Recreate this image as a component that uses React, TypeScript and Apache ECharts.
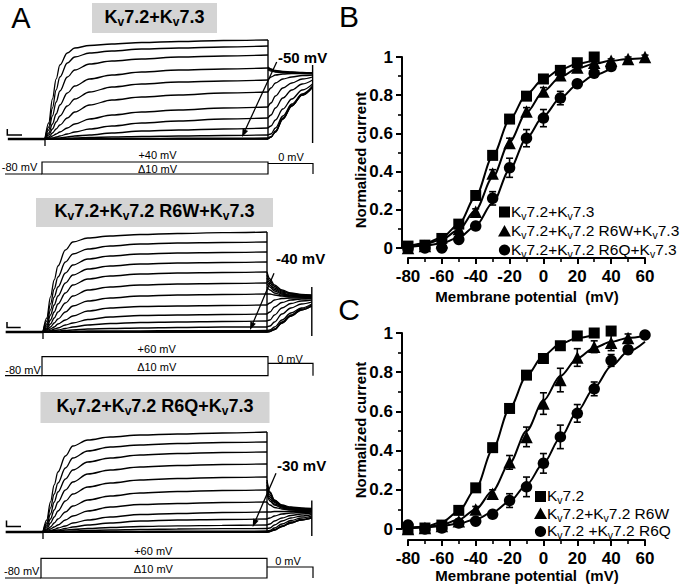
import React, { useEffect, useRef } from 'react';
import * as echarts from 'echarts';

const FONT = '"Liberation Sans", Arial, Helvetica, sans-serif';

// ---------------- Panel A : current traces (arbitrary units, baseline = 0) ----------------
const preTime = -250; // ms, holding at -80 mV before the step
const pulseTimes = [0, 25, 50, 75, 100, 150, 200, 300, 450, 650, 900, 1200, 1500];
const tailTimes = [1500, 1520, 1550, 1600, 1660, 1730, 1800];

const stepsA1 = [40, 30, 20, 10, 0, -10, -20, -30, -40, -50, -60, -70, -80];
const pulseA1 = [
  [0, 16, 40, 60, 74, 86, 91, 93.5, 95, 96.5, 97.5, 98.5, 99],
  [0, 12, 31, 49, 62, 76, 82, 86, 88, 90, 91, 92, 93],
  [0, 9, 23, 37, 48, 62, 69, 75, 78, 80, 82, 83, 84],
  [0, 6, 15, 25, 34, 46, 53, 60, 64, 67, 69, 70, 71],
  [0, 4, 10, 17, 23, 33, 40, 47, 52, 55, 57, 58, 59],
  [0, 2, 6, 10, 14, 21, 27, 34, 39, 42, 44, 46, 47],
  [0, 1, 3, 5, 7, 11, 15, 20, 24, 27, 29, 31, 32],
  [0, 0.5, 1, 2, 3, 5, 7, 10, 13, 16, 18, 20, 21],
  [0, 0, 0.5, 1, 1, 2, 3, 4, 6, 8, 9, 10, 11],
  [0, 0, 0, 0, 0, 0.5, 1, 1.5, 2, 2.5, 3, 3.5, 4],
  [0, 0, 0, 0, 0, 0, 0, 0.2, 0.4, 0.6, 0.8, 0.9, 1],
  [0, 0, 0, 0, 0, 0, 0, 0, 0, 0, 0, 0, 0],
  [0, 0, 0, 0, 0, 0, 0, 0, 0, 0, 0, 0, 0],
];
const tailA1 = [
  [72, 70, 68.5, 67.5, 67, 66.5, 66],
  [71, 69.5, 68, 67, 66.5, 66, 66],
  [70, 69, 67.5, 67, 66.5, 66, 66],
  [69, 68, 67, 66.5, 66, 66, 66],
  [59, 62, 64, 65, 65.5, 65.5, 65.5],
  [47, 51, 56, 60, 62, 63.5, 64],
  [32, 36, 43, 51, 56, 60, 62],
  [21, 24, 31, 41, 49, 55, 59],
  [11, 13, 19, 30, 40, 49, 55],
  [4, 5, 11, 23, 35, 45, 53],
  [1, 2, 8, 21, 34, 44, 52],
  [0, 2, 7, 20, 33, 44, 52],
  [0, 2, 7, 20, 33, 44, 52],
];

const stepsA2 = [60, 50, 40, 30, 20, 10, 0, -10, -20, -30, -40, -50, -60, -70, -80];
const pulseA2 = [
  [0, 14, 35, 52, 66, 82, 90, 94, 96, 97.5, 98.5, 99.3, 100],
  [0, 11, 28, 43, 55, 70, 78, 83, 86, 88, 89, 89.5, 90],
  [0, 8, 22, 35, 45, 59, 67, 73, 76, 78, 79, 79.5, 80],
  [0, 6, 17, 27, 36, 49, 57, 63, 66, 68, 69, 69.5, 70],
  [0, 4, 12, 20, 28, 39, 47, 53, 56, 58, 59, 59.5, 60],
  [0, 3, 8, 14, 20, 29, 36, 42, 45, 47, 48, 48.5, 49],
  [0, 2, 5, 9, 13, 20, 26, 31, 34, 36, 37, 37.5, 38],
  [0, 1, 3, 5, 8, 12, 16, 21, 24, 25.5, 26, 26.5, 27],
  [0, 0.5, 1.5, 3, 4, 7, 9, 12.5, 15, 16.5, 17, 17.5, 18],
  [0, 0, 1, 1.5, 2, 3.5, 5, 7, 8.5, 9.5, 10, 10.5, 11],
  [0, 0, 0, 0.5, 1, 1.5, 2, 3, 3.5, 4, 4.5, 5, 5],
  [0, 0, 0, 0, 0, 0.5, 0.5, 1, 1, 1.2, 1.3, 1.4, 1.5],
  [0, 0, 0, 0, 0, 0, 0, 0.2, 0.3, 0.4, 0.4, 0.5, 0.5],
  [0, 0, 0, 0, 0, 0, 0, 0, 0, 0, 0, 0, 0],
  [0, 0, 0, 0, 0, 0, 0, 0, 0, 0, 0, 0, 0],
];
const tailA2 = [
  [60, 53, 47, 42, 39, 37.5, 37],
  [57, 51, 45.5, 41, 38.5, 37, 36.5],
  [54, 49, 44, 40, 38, 36.5, 36],
  [51, 47, 42.5, 39, 37, 36, 35.5],
  [48, 45, 41, 38, 36.5, 35.5, 35],
  [45, 42, 39, 37, 36, 35, 35],
  [38, 38, 37, 36, 35, 35, 34.5],
  [27, 29, 32, 33.5, 34, 34, 34],
  [18, 20, 25, 29.5, 32, 33, 33.5],
  [11, 12, 17, 24, 28.5, 31, 32],
  [5, 6, 10, 18, 24, 28, 30],
  [1.5, 2, 5, 12, 19, 24, 28],
  [0.5, 1, 3, 10, 17, 23, 27],
  [0, 0.5, 2.5, 9, 16, 22, 26],
  [0, 0.5, 2.5, 9, 16, 22, 26],
];

const stepsA3 = [60, 50, 40, 30, 20, 10, 0, -10, -20, -30, -40, -50, -60, -70, -80];
const pulseA3 = [
  [0, 12, 30, 47, 60, 76, 86, 92, 95, 97, 98, 99, 100],
  [0, 9, 24, 38, 49, 64, 74, 81, 85, 87, 88.5, 89.5, 90],
  [0, 7, 18, 30, 40, 53, 62, 70, 74, 77, 78.5, 79.5, 80],
  [0, 5, 13, 22, 30, 42, 50, 58, 62, 65, 66.5, 67.5, 68],
  [0, 3, 9, 15, 21, 31, 38, 45, 49, 52, 53.5, 54.5, 55],
  [0, 2, 5, 9, 13, 20, 26, 32, 36, 39, 40.5, 41.5, 42],
  [0, 1, 3, 5, 7, 12, 16, 21, 25, 27.5, 28.5, 29.5, 30],
  [0, 0.5, 1.5, 2.5, 4, 6, 9, 12, 15, 17.5, 18.5, 19.5, 20],
  [0, 0, 1, 1.5, 2, 3.5, 5, 7, 9, 11, 12, 12.5, 13],
  [0, 0, 0.5, 1, 1, 2, 2.5, 3.5, 4.5, 5.5, 6.2, 6.7, 7],
  [0, 0, 0, 0, 0.5, 0.5, 1, 1.5, 2, 2.5, 3, 3.3, 3.5],
  [0, 0, 0, 0, 0, 0, 0, 0.3, 0.5, 0.7, 0.8, 0.9, 1],
  [0, 0, 0, 0, 0, 0, 0, 0, 0, 0, 0, 0, 0],
  [0, 0, 0, 0, 0, 0, 0, 0, 0, 0, 0, 0, 0],
  [0, 0, 0, 0, 0, 0, 0, 0, 0, 0, 0, 0, 0],
];
const tailA3 = [
  [52, 40, 32, 27, 25, 24, 23.5],
  [50, 39, 31.5, 26.5, 24.5, 23.5, 23],
  [47, 37, 30.5, 26, 24, 23, 23],
  [44, 35, 29.5, 25.5, 23.5, 23, 22.5],
  [41, 33, 28, 25, 23, 22.5, 22],
  [38, 31, 27, 24, 22.5, 22, 22],
  [30, 27, 24.5, 23, 22, 21.5, 21.5],
  [20, 20, 20.5, 20.5, 20.5, 20.5, 20.5],
  [13, 14, 16, 18, 19, 19.5, 20],
  [7, 8, 11, 14, 16.5, 18, 19],
  [3.5, 4, 7, 11, 14, 16, 17.5],
  [1, 1.5, 4, 8, 11.5, 14, 16],
  [0, 0.5, 2.5, 6, 10, 12.5, 15],
  [0, 0.5, 2, 5.5, 9, 12, 14],
  [0, 0.5, 2, 5.5, 9, 12, 14],
];

const titlesA = ['Kv7.2+Kv7.3', 'Kv7.2+Kv7.2 R6W+Kv7.3', 'Kv7.2+Kv7.2 R6Q+Kv7.3'];
const arrowLabelsA = ['-50 mV', '-40 mV', '-30 mV'];
const stepLabelsA = ['+40 mV', '+60 mV', '+60 mV'];

// ---------------- Panels B, C : normalized G-V ----------------
const voltages = [-80, -70, -60, -50, -40, -30, -20, -10, 0, 10, 20, 30, 40, 50, 60];
const xTicks = [-80, -60, -40, -20, 0, 20, 40, 60];

const legendB = ['Kv7.2+Kv7.3', 'Kv7.2+Kv7.2 R6W+Kv7.3', 'Kv7.2+Kv7.2 R6Q+Kv7.3'];
const bSquare = [0.01, 0.015, 0.05, 0.125, 0.275, 0.485, 0.675, 0.795, 0.885, 0.93, 0.97, 1.0];
const bSquareErr = [0, 0, 0.01, 0.01, 0.015, 0.02, 0.02, 0.015, 0.015, 0.01, 0.01, 0.01];
const bTri = [0.0, 0.01, 0.03, 0.1, 0.19, 0.39, 0.55, 0.715, 0.82, 0.905, 0.945, 0.97, 0.98, 0.99, 1.0];
const bTriErr = [0, 0, 0.01, 0.01, 0.015, 0.02, 0.025, 0.02, 0.02, 0.02, 0.015, 0.01, 0.01, 0.01, 0.01];
const bCirc = [0.0, 0.0, 0.0, 0.045, 0.115, 0.26, 0.42, 0.575, 0.68, 0.785, 0.86, 0.915, 0.95];
const bCircErr = [0, 0, 0.005, 0.01, 0.015, 0.035, 0.05, 0.045, 0.045, 0.035, 0.02, 0.02, 0.01];
const bFitSquare = [0.01, 0.025, 0.055, 0.125, 0.27, 0.48, 0.67, 0.805, 0.885, 0.935, 0.965, 0.985];
const bFitTri = [0.008, 0.02, 0.045, 0.095, 0.2, 0.37, 0.555, 0.71, 0.82, 0.895, 0.94, 0.965, 0.98, 0.99, 0.995];
const bFitCirc = [0.005, 0.012, 0.025, 0.055, 0.115, 0.235, 0.41, 0.575, 0.69, 0.785, 0.855, 0.905, 0.94];

const legendC = ['Kv7.2', 'Kv7.2+Kv7.2 R6W', 'Kv7.2 +Kv7.2 R6Q'];
const cSquare = [0.0, 0.005, 0.02, 0.095, 0.21, 0.415, 0.615, 0.785, 0.87, 0.935, 0.985, 1.0, 1.01];
const cSquareErr = [0, 0, 0.005, 0.01, 0.015, 0.02, 0.02, 0.02, 0.015, 0.01, 0.01, 0.01, 0.01];
const cTri = [0.0, 0.005, 0.015, 0.04, 0.1, 0.18, 0.34, 0.47, 0.64, 0.76, 0.875, 0.93, 0.95, 0.975];
const cTriErr = [0.005, 0.005, 0.01, 0.01, 0.015, 0.02, 0.035, 0.05, 0.055, 0.06, 0.045, 0.03, 0.04, 0.02];
const cCirc = [0.02, 0.0, 0.005, 0.03, 0.04, 0.075, 0.145, 0.215, 0.335, 0.47, 0.59, 0.715, 0.86, 0.915, 0.99];
const cCircErr = [0.01, 0.005, 0.01, 0.01, 0.015, 0.015, 0.035, 0.05, 0.05, 0.06, 0.045, 0.035, 0.03, 0.02, 0.01];
const cFitSquare = [0.005, 0.012, 0.035, 0.09, 0.205, 0.405, 0.615, 0.78, 0.885, 0.945, 0.975, 0.99];
const cFitTri = [0.005, 0.01, 0.022, 0.048, 0.1, 0.195, 0.335, 0.5, 0.655, 0.78, 0.87, 0.925, 0.955, 0.975, 0.985];
const cFitCirc = [0.004, 0.008, 0.015, 0.028, 0.05, 0.085, 0.14, 0.225, 0.335, 0.465, 0.6, 0.72, 0.83, 0.905, 0.955];

// ---------------- helpers ----------------
const BLACK = '#000';

function kvRich(s: string): string {
  const parts = s.split('Kv');
  let out = '';
  parts.forEach((p, i) => {
    if (i > 0) out += '{m|K}{s|v}';
    if (p) out += `{m|${p}}`;
  });
  return out;
}

function richStyles(fs: number, sub: number, weight: string) {
  const lh = Math.round(fs * 1.15);
  return {
    m: { fontFamily: FONT, fontSize: fs, fontWeight: weight, fill: BLACK, lineHeight: lh, verticalAlign: 'top' },
    s: {
      fontFamily: FONT, fontSize: sub, fontWeight: weight, fill: BLACK, lineHeight: sub,
      padding: [Math.round(lh / 2 - sub / 2 + fs * 0.22), 0, 0, 0], verticalAlign: 'top',
    },
  };
}

function pairs(vals: number[]) {
  return vals.map((y, i) => [voltages[i], y]);
}
function errTriples(vals: number[], errs: number[]) {
  return vals.map((y, i) => [voltages[i], y, errs[i]]).filter((d) => d[2] > 0);
}

function traceSeries(p: number, pulse: number[][], tail: number[][]) {
  const out: any[] = [];
  const base = { type: 'line', xAxisIndex: p, yAxisIndex: p, symbol: 'none', silent: true, clip: false, z: 2 };
  out.push({ ...base, data: [[preTime, 0], [0, 0]], lineStyle: { color: BLACK, width: 2.6 } });
  pulse.forEach((vals, i) => {
    out.push({
      ...base, smooth: 0.35, smoothMonotone: 'x',
      data: pulseTimes.map((t, j) => [t, vals[j]]),
      lineStyle: { color: BLACK, width: 1.3 },
    });
    out.push({
      ...base, smooth: 0.35, smoothMonotone: 'x',
      data: tailTimes.map((t, j) => [t, tail[i][j]]),
      lineStyle: { color: BLACK, width: 1.3 },
    });
  });
  const maxPulse = Math.max(...pulse.map((v) => v[v.length - 1]));
  const maxTail = Math.max(...tail.map((v) => v[v.length - 1]));
  const tStart = pulseTimes[0];
  const tEnd = pulseTimes[pulseTimes.length - 1];
  const tTail = tailTimes[tailTimes.length - 1];
  out.push({ ...base, data: [[tStart, 0], [tStart, -7]], lineStyle: { color: BLACK, width: 1.3 } });
  out.push({ ...base, data: [[tEnd, maxPulse], [tEnd, 0]], lineStyle: { color: BLACK, width: 1.4 } });
  out.push({ ...base, data: [[tTail, maxTail + 8], [tTail, -4]], lineStyle: { color: BLACK, width: 1.4 } });
  return out;
}

function errorSeries(g: number, data: number[][]) {
  return {
    type: 'custom', xAxisIndex: g, yAxisIndex: g, silent: true, clip: false, z: 3,
    data,
    encode: { x: 0, y: 1 },
    renderItem: (params: any, api: any) => {
      const x = api.value(0);
      const y = api.value(1);
      const e = api.value(2);
      const p1 = api.coord([x, y + e]);
      const p2 = api.coord([x, y - e]);
      const w = 3.5;
      const st = { stroke: BLACK, lineWidth: 1.6 };
      return {
        type: 'group',
        children: [
          { type: 'line', shape: { x1: p1[0], y1: p1[1], x2: p2[0], y2: p2[1] }, style: st },
          { type: 'line', shape: { x1: p1[0] - w, y1: p1[1], x2: p1[0] + w, y2: p1[1] }, style: st },
          { type: 'line', shape: { x1: p2[0] - w, y1: p2[1], x2: p2[0] + w, y2: p2[1] }, style: st },
        ],
      };
    },
  };
}

function fitSeries(g: number, vals: number[]) {
  return {
    type: 'line', xAxisIndex: g, yAxisIndex: g, symbol: 'none', silent: true, clip: false, z: 2,
    smooth: 0.3, smoothMonotone: 'x', data: pairs(vals), lineStyle: { color: BLACK, width: 2 },
  };
}

function scatterSeries(g: number, name: string, symbol: string, size: number, vals: number[]) {
  return {
    type: 'scatter', name, xAxisIndex: g, yAxisIndex: g, symbol, symbolSize: size, silent: true, clip: false, z: 4,
    data: pairs(vals), itemStyle: { color: BLACK, opacity: 1 },
  };
}

function gvAxes(g: number, xOffset: number) {
  const lineStyle = { color: BLACK, width: 2 };
  return {
    x: {
      type: 'value', gridIndex: g, min: xTicks[0], max: xTicks[xTicks.length - 1], interval: 20, offset: xOffset,
      axisLine: { show: true, onZero: false, lineStyle },
      axisTick: { show: true, length: 6, lineStyle },
      minorTick: { show: true, splitNumber: 2, length: 4, lineStyle: { color: BLACK, width: 1.6 } },
      splitLine: { show: false }, minorSplitLine: { show: false },
      axisLabel: { fontFamily: FONT, fontWeight: 'bold', fontSize: 17, color: BLACK, margin: 10 },
    },
    y: {
      type: 'value', gridIndex: g, min: 0, max: 1, interval: 0.2, offset: 6,
      axisLine: { show: true, onZero: false, lineStyle },
      axisTick: { show: true, length: 6, lineStyle },
      minorTick: { show: true, splitNumber: 2, length: 4, lineStyle: { color: BLACK, width: 1.6 } },
      splitLine: { show: false }, minorSplitLine: { show: false },
      axisLabel: { fontFamily: FONT, fontWeight: 'bold', fontSize: 17, color: BLACK, margin: 9 },
    },
  };
}

function arrowEls(x1: number, y1: number, x2: number, y2: number) {
  const ang = Math.atan2(y2 - y1, x2 - x1);
  const L = 8;
  const W = 3;
  const bx = x2 - L * Math.cos(ang);
  const by = y2 - L * Math.sin(ang);
  const px = -Math.sin(ang) * W;
  const py = Math.cos(ang) * W;
  return [
    { type: 'line', z: 100, shape: { x1, y1, x2: bx, y2: by }, style: { stroke: BLACK, lineWidth: 1.3 } },
    { type: 'polygon', z: 100, shape: { points: [[x2, y2], [bx + px, by + py], [bx - px, by - py]] }, style: { fill: BLACK } },
  ];
}

function txt(x: number, y: number, text: string, fs: number, weight = 'normal', align = 'center', extra: any = {}) {
  return {
    type: 'text', x, y, z: 100, ...extra,
    style: { text, fontFamily: FONT, fontSize: fs, fontWeight: weight, fill: BLACK, align, verticalAlign: 'middle' },
  };
}

function richTxt(x: number, y: number, s: string, fs: number, sub: number, weight: string, align = 'center') {
  return {
    type: 'text', x, y, z: 100,
    style: { text: kvRich(s), rich: richStyles(fs, sub, weight), align, verticalAlign: 'middle', fill: BLACK },
  };
}

function protocolEls(c: any) {
  const st = { stroke: BLACK, lineWidth: 1.2, fill: null };
  return [
    { type: 'polyline', z: 100, shape: { points: [[c.x0, c.base], [c.xs, c.base]] }, style: st },
    { type: 'rect', z: 100, shape: { x: c.xs, y: c.top, width: c.xe - c.xs, height: c.base - c.top }, style: { stroke: BLACK, lineWidth: 1.2, fill: '#fff' } },
    { type: 'polyline', z: 100, shape: { points: [[c.xe, c.zero], [c.xt, c.zero], [c.xt, c.base]] }, style: st },
    txt(c.lx, c.ly, '-80 mV', 11, 'normal', 'center'),
    txt(c.cx, c.sy, c.step, 11),
    txt(c.cx, c.dy, '\u039410 mV', 11),
    txt(c.zx, c.zy, '0 mV', 11),
  ];
}

function legendEls(x: number, ys: number[], names: string[]) {
  const [y1, y2, y3] = ys;
  return [
    { type: 'rect', z: 100, shape: { x: x - 5.5, y: y1 - 5.5, width: 11, height: 11 }, style: { fill: BLACK } },
    { type: 'polygon', z: 100, shape: { points: [[x, y2 - 6.5], [x + 6.5, y2 + 5], [x - 6.5, y2 + 5]] }, style: { fill: BLACK } },
    { type: 'circle', z: 100, shape: { cx: x, cy: y3, r: 5.6 }, style: { fill: BLACK } },
    richTxt(x + 6.5, y1, names[0], 15.5, 10.5, 'normal', 'left'),
    richTxt(x + 6.5, y2, names[1], 15.5, 10.5, 'normal', 'left'),
    richTxt(x + 6.5, y3, names[2], 15.5, 10.5, 'normal', 'left'),
  ];
}

function buildOption() {
  const gB = gvAxes(3, 10);
  const gC = gvAxes(4, 11);
  const hidden = (g: number, min: number, max: number) => ({ type: 'value', gridIndex: g, min, max, show: false });

  const graphic: any[] = [
    txt(21, 18, 'A', 29),
    txt(349, 16, 'B', 30),
    txt(349, 309, 'C', 30),
    // title boxes
    { type: 'rect', z: 90, shape: { x: 92, y: 3, width: 125, height: 30 }, style: { fill: '#d4d4d4' } },
    richTxt(154.5, 18, titlesA[0], 18, 12, 'bold'),
    { type: 'rect', z: 90, shape: { x: 36, y: 198, width: 237, height: 29 }, style: { fill: '#d4d4d4' } },
    richTxt(154.5, 212.5, titlesA[1], 18, 12, 'bold'),
    { type: 'rect', z: 90, shape: { x: 40.5, y: 392, width: 229, height: 31 }, style: { fill: '#d4d4d4' } },
    richTxt(155, 407.5, titlesA[2], 18, 12, 'bold'),
    // scale bars
    { type: 'polyline', z: 100, shape: { points: [[7.3, 129], [7.3, 135], [22, 135]] }, style: { stroke: BLACK, lineWidth: 1.5, fill: null } },
    { type: 'polyline', z: 100, shape: { points: [[7, 322], [7, 327.5], [20.7, 327.5]] }, style: { stroke: BLACK, lineWidth: 1.5, fill: null } },
    { type: 'polyline', z: 100, shape: { points: [[6.5, 520.5], [6.5, 526.5], [21, 526.5]] }, style: { stroke: BLACK, lineWidth: 1.5, fill: null } },
    // arrow labels
    txt(278, 57.5, arrowLabelsA[0], 15, 'bold', 'left'),
    ...arrowEls(276.7, 62, 242, 137),
    txt(276, 258, arrowLabelsA[1], 15, 'bold', 'left'),
    ...arrowEls(274, 273.3, 250, 330),
    txt(277, 465, arrowLabelsA[2], 15, 'bold', 'left'),
    ...arrowEls(276, 473.3, 252.7, 527),
    // protocols
    ...protocolEls({ x0: 5, xs: 42, xe: 268, xt: 313, base: 174, top: 162, zero: 163.5, lx: 19.5, ly: 167, cx: 157.5, sy: 155, dy: 169, zx: 291, zy: 157, step: stepLabelsA[0] }),
    ...protocolEls({ x0: 5, xs: 42, xe: 268, xt: 313, base: 375.7, top: 356.7, zero: 363.3, lx: 23, ly: 370, cx: 156.7, sy: 349.3, dy: 366.7, zx: 290, zy: 359.3, step: stepLabelsA[1] }),
    ...protocolEls({ x0: 5, xs: 41, xe: 267, xt: 313, base: 578, top: 558.3, zero: 567, lx: 21.7, ly: 570.7, cx: 153.3, sy: 550.7, dy: 569, zx: 288, zy: 561, step: stepLabelsA[2] }),
    // axis titles B / C
    txt(360, 160, 'Normalized current', 15, 'bold', 'center', { rotation: Math.PI / 2 }),
    txt(527, 296, 'Membrane potential  (mV)', 15, 'bold'),
    txt(360, 430, 'Normalized current', 15, 'bold', 'center', { rotation: Math.PI / 2 }),
    txt(527, 575, 'Membrane potential  (mV)', 15, 'bold'),
    // legends
    ...legendEls(504.5, [212, 231.5, 250], legendB),
    ...legendEls(540.5, [496.5, 514, 531.5], legendC),
  ];

  const series: any[] = [
    ...traceSeries(0, pulseA1, tailA1),
    ...traceSeries(1, pulseA2, tailA2),
    ...traceSeries(2, pulseA3, tailA3),
    fitSeries(3, bFitSquare), fitSeries(3, bFitTri), fitSeries(3, bFitCirc),
    errorSeries(3, errTriples(bSquare, bSquareErr)),
    errorSeries(3, errTriples(bTri, bTriErr)),
    errorSeries(3, errTriples(bCirc, bCircErr)),
    scatterSeries(3, legendB[0], 'rect', 11, bSquare),
    scatterSeries(3, legendB[1], 'triangle', 12.5, bTri),
    scatterSeries(3, legendB[2], 'circle', 11.5, bCirc),
    fitSeries(4, cFitSquare), fitSeries(4, cFitTri), fitSeries(4, cFitCirc),
    errorSeries(4, errTriples(cSquare, cSquareErr)),
    errorSeries(4, errTriples(cTri, cTriErr)),
    errorSeries(4, errTriples(cCirc, cCircErr)),
    scatterSeries(4, legendC[0], 'rect', 11, cSquare),
    scatterSeries(4, legendC[1], 'triangle', 12.5, cTri),
    scatterSeries(4, legendC[2], 'circle', 11.5, cCirc),
  ];

  const pxA1 = 223 / 1500;
  const pxA2 = 224 / 1500;
  return {
    animation: false,
    backgroundColor: '#fff',
    grid: [
      { left: 45 - 280 * pxA1, top: 29, width: 2080 * pxA1, height: 120, outerBoundsMode: 'none' },
      { left: 43 - 280 * pxA2, top: 222, width: 2080 * pxA2, height: 120, outerBoundsMode: 'none' },
      { left: 43 - 280 * pxA2, top: 422, width: 2080 * pxA2, height: 120, outerBoundsMode: 'none' },
      { left: 408, top: 57, width: 237, height: 191, outerBoundsMode: 'none' },
      { left: 408, top: 333, width: 237, height: 196, outerBoundsMode: 'none' },
    ],
    xAxis: [hidden(0, -280, 1800), hidden(1, -280, 1800), hidden(2, -280, 1800), gB.x, gC.x],
    yAxis: [hidden(0, -10, 110), hidden(1, -10, 110), hidden(2, -10, 110), gB.y, gC.y],
    graphic,
    series,
  };
}

export default function App() {
  const ref = useRef<HTMLDivElement>(null);
  useEffect(() => {
    document.body.style.margin = '0';
    const chart = echarts.init(ref.current as HTMLDivElement, null, { renderer: 'svg', width: 680, height: 584 });
    chart.setOption(buildOption() as any);
    return () => chart.dispose();
  }, []);
  return <div ref={ref} style={{ position: 'absolute', left: 0, top: 0, width: 680, height: 584, background: '#fff' }} />;
}
